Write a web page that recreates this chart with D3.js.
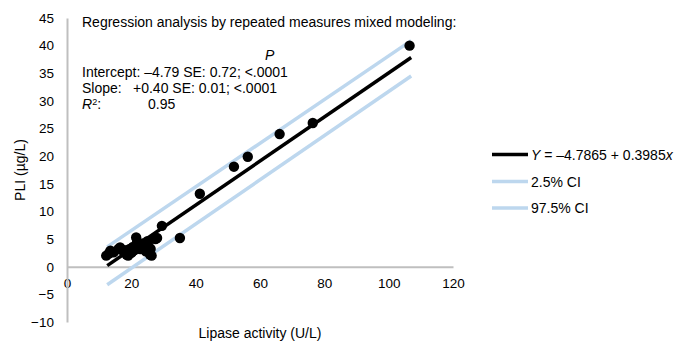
<!DOCTYPE html>
<html>
<head>
<meta charset="utf-8">
<script src="https://cdn.jsdelivr.net/npm/d3@7"></script>
<style>
  body { margin: 0; background: #fff; }
  text { font-family: "Liberation Sans", Arial, sans-serif; fill: #000; }
</style>
</head>
<body>
<svg width="688" height="341"></svg>
<script>
// data: lipase activity (U/L) vs PLI (ug/L)
const lipase = [12.2, 13.0, 13.5, 14.5, 16.0, 16.5, 17.5, 18.0, 18.5, 19.0, 19.5, 20.0,
  20.5, 21.0, 21.5, 21.8, 22.3, 22.8, 23.5, 24.0, 24.5, 25.0, 25.3, 25.8, 26.3, 26.0,
  27.5, 28.0, 29.5, 35.1, 41.3, 51.9, 56.2, 66.1, 76.4, 106.5];
const pli = [2.0, 2.4, 2.9, 2.6, 3.2, 3.5, 2.8, 3.0, 2.2, 2.0, 3.2, 2.5,
  3.6, 3.0, 5.3, 4.5, 3.8, 3.2, 4.2, 3.5, 2.8, 4.6, 3.8, 2.2, 2.0, 3.2,
  5.0, 5.2, 7.4, 5.2, 13.2, 18.1, 19.9, 24.0, 26.0, 40.0];

const lineX = [12.5, 107];
const fitY = lineX.map(x => -4.7865 + 0.3985 * x);
const ciUpper = [3.6, 40.9];
const ciLower = [-3.25, 34.5];

const xTicks = [0, 20, 40, 60, 80, 100, 120];
const yTicks = [-10, -5, 0, 5, 10, 15, 20, 25, 30, 35, 40, 45];

const svg = d3.select('svg');

const x = d3.scaleLinear().domain([0, 120]).range([67, 453]);
const y = d3.scaleLinear().domain([-10, 45]).range([322, 18]);

const axisColor = '#bfbfbf';

// axes
const xAxis = svg.append('g')
    .attr('transform', `translate(0,${y(0)})`)
    .call(d3.axisBottom(x).tickValues(xTicks).tickSize(0).tickPadding(12));

const yAxis = svg.append('g')
    .attr('transform', `translate(${x(0)},0)`)
    .call(d3.axisLeft(y).tickValues(yTicks).tickSize(0).tickPadding(13));

[xAxis, yAxis].forEach(a => {
    a.select('.domain').attr('stroke', axisColor).attr('stroke-width', 2);
    a.selectAll('text')
        .attr('font-size', 13.5)
        .attr('font-family', '"Liberation Sans", Arial, sans-serif')
        .attr('fill', '#000');
});

// axis titles
svg.append('text')
    .attr('x', 260)
    .attr('y', 338)
    .attr('text-anchor', 'middle')
    .attr('font-size', 14)
    .text('Lipase activity (U/L)');

svg.append('text')
    .attr('transform', 'translate(25,170) rotate(-90)')
    .attr('text-anchor', 'middle')
    .attr('font-size', 14)
    .text('PLI (µg/L)');

// fitted line and confidence limits
const line = d3.line()
    .x(d => x(d[0]))
    .y(d => y(d[1]));

const ciColor = '#bdd7ee';

svg.append('path')
    .attr('d', line(d3.zip(lineX, ciUpper)))
    .attr('stroke', ciColor)
    .attr('stroke-width', 3.5)
    .attr('fill', 'none');

svg.append('path')
    .attr('d', line(d3.zip(lineX, ciLower)))
    .attr('stroke', ciColor)
    .attr('stroke-width', 3.5)
    .attr('fill', 'none');

svg.append('path')
    .attr('d', line(d3.zip(lineX, fitY)))
    .attr('stroke', '#000')
    .attr('stroke-width', 3.5)
    .attr('fill', 'none');

// points
svg.append('g')
    .selectAll('circle')
    .data(d3.zip(lipase, pli))
    .join('circle')
    .attr('cx', d => x(d[0]))
    .attr('cy', d => y(d[1]))
    .attr('r', 5.2)
    .attr('fill', '#000');

// annotation
const note = svg.append('g').attr('font-size', 14);

note.append('text')
    .attr('x', 82).attr('y', 27)
    .text('Regression analysis by repeated measures mixed modeling:');

note.append('text')
    .attr('x', 265).attr('y', 60)
    .attr('font-style', 'italic')
    .text('P');

note.append('text')
    .attr('x', 82).attr('y', 77)
    .text('Intercept: –4.79 SE: 0.72; <.0001');

note.append('text')
    .attr('x', 82).attr('y', 93)
    .text('Slope:');
note.append('text')
    .attr('x', 133).attr('y', 93)
    .text('+0.40 SE: 0.01; <.0001');

const r2 = note.append('text')
    .attr('x', 82).attr('y', 109);
r2.append('tspan').attr('font-style', 'italic').text('R');
r2.append('tspan').attr('font-size', 9).attr('dy', -4).text('2');
r2.append('tspan').attr('dy', 4).text(':');
note.append('text')
    .attr('x', 148).attr('y', 109)
    .text('0.95');

// legend
const legend = svg.append('g').attr('font-size', 14);
const legendItems = [
    { color: '#000', width: 3.5 },
    { color: ciColor, width: 3.5 },
    { color: ciColor, width: 3.5 }
];
const legendY = [154.5, 181.5, 208];

legendItems.forEach((d, i) => {
    legend.append('line')
        .attr('x1', 492).attr('x2', 528)
        .attr('y1', legendY[i]).attr('y2', legendY[i])
        .attr('stroke', d.color)
        .attr('stroke-width', d.width);
});

const eq = legend.append('text').attr('x', 531).attr('y', legendY[0] + 5);
eq.append('tspan').attr('font-style', 'italic').text('Y');
eq.append('tspan').text(' = –4.7865 + 0.3985');
eq.append('tspan').attr('font-style', 'italic').text('x');

legend.append('text').attr('x', 531).attr('y', legendY[1] + 5).text('2.5% CI');
legend.append('text').attr('x', 531).attr('y', legendY[2] + 5).text('97.5% CI');
</script>
</body>
</html>
